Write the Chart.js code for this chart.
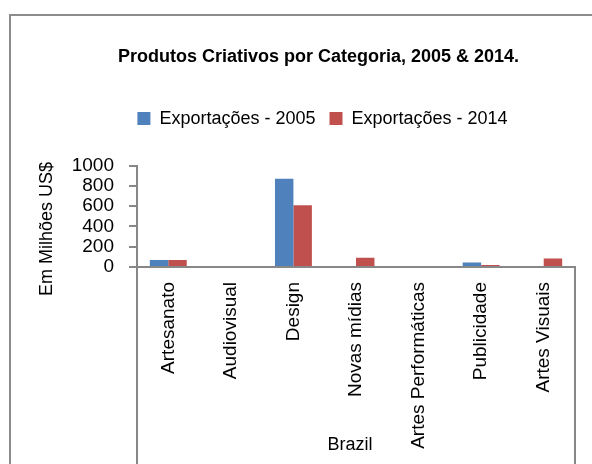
<!DOCTYPE html>
<html>
<head>
<meta charset="utf-8">
<script src="https://cdn.jsdelivr.net/npm/chart.js@4/dist/chart.umd.min.js"></script>
<style>
  html, body { margin: 0; padding: 0; background: #ffffff; }
  #c { display: block; }
</style>
</head>
<body>
<canvas id="c" width="592" height="464"></canvas>
<script>
// Creative product exports from Brazil, by category (US$ millions)
const categories = ['Artesanato', 'Audiovisual', 'Design', 'Novas mídias', 'Artes Performáticas', 'Publicidade', 'Artes Visuais'];
const exports2005 = [68, 0, 870, 0, 0, 44, 0];
const exports2014 = [68, 0, 608, 92, 0, 20, 85];
const yTicks = [0, 200, 400, 600, 800, 1000];
const seriesNames = ['Exportações - 2005', 'Exportações - 2014'];
const groupLabel = 'Brazil';
const yTitle = 'Em Milhões US$';
const chartTitle = 'Produtos Criativos por Categoria, 2005 & 2014.';

const FONT = "'Liberation Sans', Arial, sans-serif";
const AXIS_GREY = '#878787';
// The frame is wider than the visible page, so title and legend sit right of the plot centre
const TITLE_SHIFT = 26;
const LEGEND_SHIFT = 30;
// Extra room between the legend and the plot
const LEGEND_GAP = 28;

const legendGapPlugin = {
  id: 'legendGap',
  beforeInit(chart) {
    const legend = chart.legend;
    if (!legend) return;
    const fit = legend.fit;
    legend.fit = function () {
      fit.call(this);
      this.height += LEGEND_GAP;
    };
  }
};

// Outer frame, the category-group box below the x axis and the rotated y title
const framePlugin = {
  id: 'frame',
  beforeDraw(chart) {
    const ctx = chart.ctx;
    ctx.save();
    ctx.fillStyle = '#ffffff';
    ctx.fillRect(0, 0, chart.width, chart.height);
    ctx.strokeStyle = '#8c8c8c';
    ctx.lineWidth = 2;
    ctx.beginPath();
    ctx.moveTo(10, chart.height + 5);
    ctx.lineTo(10, 15);
    ctx.lineTo(chart.width + 5, 15);
    ctx.stroke();
    ctx.restore();

    [[chart.titleBlock, TITLE_SHIFT], [chart.legend, LEGEND_SHIFT]].forEach(([box, dx]) => {
      if (box && !box._shifted) {
        box.left += dx;
        box.right += dx;
        box._shifted = true;
      }
    });
  },
  afterDraw(chart) {
    const ctx = chart.ctx;
    const area = chart.chartArea;
    const x = chart.scales.x;
    ctx.save();
    ctx.strokeStyle = AXIS_GREY;
    ctx.lineWidth = 2;
    ctx.beginPath();
    ctx.moveTo(x.left, area.bottom);
    ctx.lineTo(x.left, chart.height);
    ctx.moveTo(x.right, area.bottom);
    ctx.lineTo(x.right, chart.height);
    ctx.stroke();

    ctx.fillStyle = '#000000';
    ctx.font = '18px ' + FONT;
    ctx.textAlign = 'center';
    ctx.textBaseline = 'middle';
    ctx.fillText(groupLabel, (x.left + x.right) / 2 - 6, 445);

    ctx.translate(47, 229);
    ctx.rotate(-Math.PI / 2);
    ctx.fillText(yTitle, 0, 0);
    ctx.restore();
  }
};

new Chart(document.getElementById('c'), {
  type: 'bar',
  data: {
    labels: categories,
    datasets: [
      { label: seriesNames[0], data: exports2005, backgroundColor: '#4F81BD' },
      { label: seriesNames[1], data: exports2014, backgroundColor: '#C0504D' }
    ]
  },
  options: {
    responsive: false,
    animation: false,
    devicePixelRatio: 1,
    layout: { padding: { left: 10, right: 17, top: 0, bottom: 0 } },
    datasets: { bar: { categoryPercentage: 0.59, barPercentage: 1.0 } },
    plugins: {
      title: {
        display: true,
        text: chartTitle,
        color: '#000000',
        font: { family: FONT, size: 18, weight: 'bold' },
        padding: { top: 46, bottom: 28 }
      },
      legend: {
        display: true,
        labels: {
          color: '#000000',
          font: { family: FONT, size: 18 },
          boxWidth: 13,
          boxHeight: 13,
          padding: 14
        }
      },
      tooltip: { enabled: false }
    },
    scales: {
      x: {
        grid: { display: false, drawTicks: false },
        border: { display: true, color: AXIS_GREY, width: 2 },
        ticks: {
          color: '#000000',
          font: { family: FONT, size: 19 },
          minRotation: 90,
          maxRotation: 90,
          autoSkip: false,
          padding: 15
        },
        afterFit(scale) { scale.height = 464 - 267; }
      },
      y: {
        min: 0,
        max: 1000,
        afterBuildTicks(scale) { scale.ticks = yTicks.map(v => ({ value: v })); },
        grid: { drawOnChartArea: false, drawTicks: true, tickLength: 8, color: AXIS_GREY, lineWidth: 2 },
        border: { display: true, color: AXIS_GREY, width: 2 },
        ticks: {
          color: '#000000',
          font: { family: FONT, size: 19 },
          autoSkip: false,
          padding: 15,
          callback: v => String(v)
        },
        afterFit(scale) { scale.width = 137 - 10; }
      }
    }
  },
  plugins: [legendGapPlugin, framePlugin]
});
</script>
</body>
</html>
